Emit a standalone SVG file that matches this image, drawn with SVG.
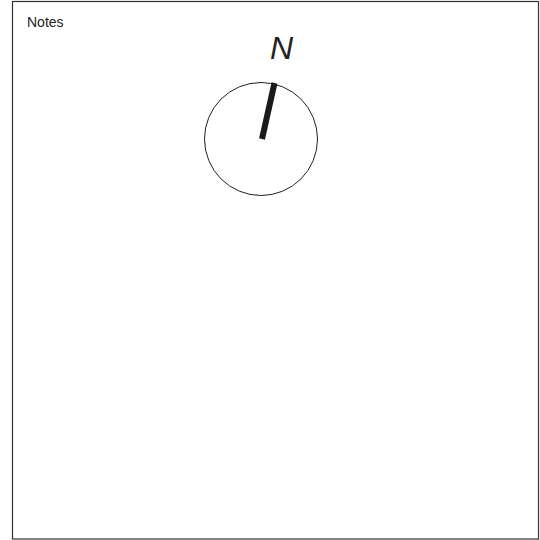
<svg xmlns="http://www.w3.org/2000/svg" width="540" height="540" viewBox="0 0 540 540">
<style>
.frame{fill:#fff;stroke:#333;stroke-width:1.2}
.lbl{font-family:"Liberation Sans",Arial,sans-serif;fill:#222}
</style>
<rect x="0" y="0" width="540" height="540" fill="#fff"/>
<g id="frame"><rect class="frame" x="12.5" y="1.5" width="526" height="537.5"/></g>
<g id="notes"><text class="lbl" x="27" y="27" font-size="14">Notes</text></g>
<g id="compass">
<circle cx="261" cy="139" r="56.5" fill="none" stroke="#222" stroke-width="1"/>
<line x1="262" y1="139" x2="274.5" y2="83" stroke="#1a1a1a" stroke-width="6"/>
<text class="lbl" x="270" y="59" font-size="32" font-style="italic">N</text>
</g>
</svg>
